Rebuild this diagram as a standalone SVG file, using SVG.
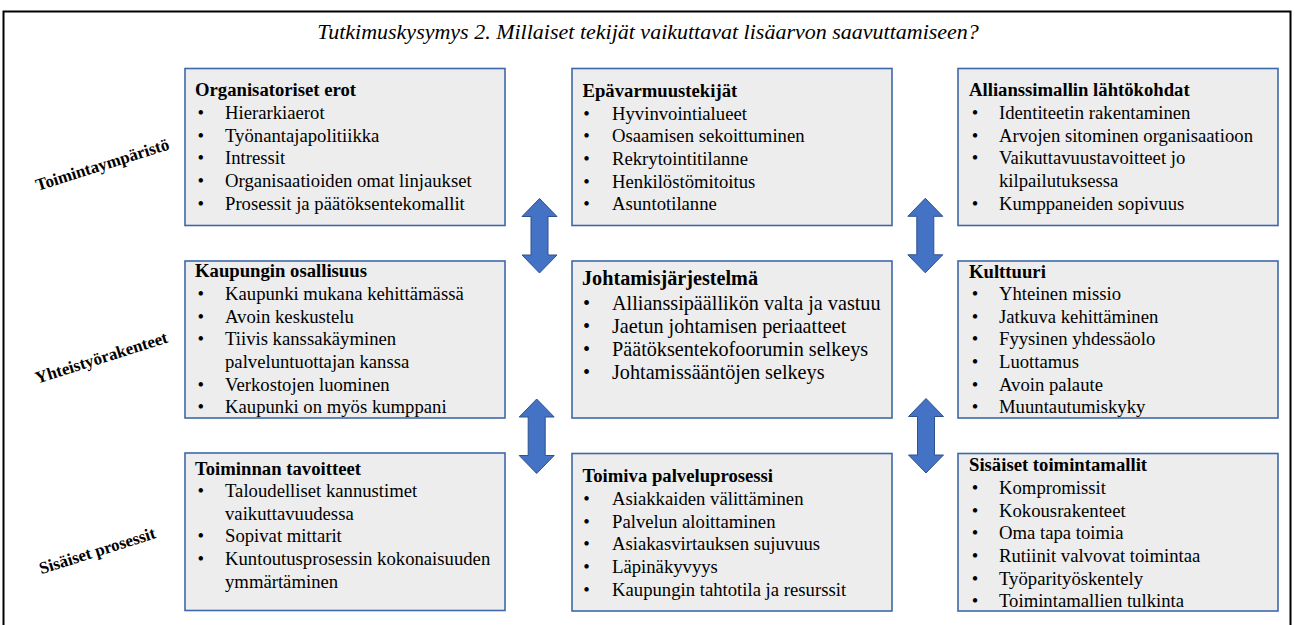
<svg xmlns="http://www.w3.org/2000/svg" xmlns:xlink="http://www.w3.org/1999/xlink" width="1295" height="625" viewBox="0 0 1295 625">
<style>
  text { font-family: "Liberation Serif", "Times New Roman", serif; fill: #000; }
  .title { font-size: 22px; font-style: italic; text-anchor: middle; }
  .side { font-size: 17px; font-weight: bold; text-anchor: middle; }
  .box { fill: #EDEDED; stroke: #3E68A8; stroke-width: 1.6; }
  .h { font-size: 18.7px; font-weight: bold; }
  .i { font-size: 18.7px; }
  .b { font-size: 18.7px; text-anchor: middle; }
  .big .h, .big .i, .big .b { font-size: 20.2px; }
  .arrow { fill: #4472C4; stroke: #2F528F; stroke-width: 1; }
</style>
<defs>
  <path id="dbl" d="M0,0 L17.5,18 L8.5,18 L8.5,56.5 L17.5,56.5 L0,74.5 L-17.5,56.5 L-8.5,56.5 L-8.5,18 L-17.5,18 Z"/>
</defs>
<rect x="0" y="0" width="1295" height="625" fill="#fff"/>
<rect x="3.5" y="11.5" width="1287" height="640" fill="none" stroke="#000" stroke-width="2"/>
<text class="title" x="648" y="39">Tutkimuskysymys 2. Millaiset tekijät vaikuttavat lisäarvon saavuttamiseen?</text>

<g id="labels">
  <text class="side" transform="translate(104,170) rotate(-17.5)">Toimintaympäristö</text>
  <text class="side" transform="translate(103,363) rotate(-17.5)">Yhteistyörakenteet</text>
  <text class="side" transform="translate(99,556) rotate(-17.5)">Sisäiset prosessit</text>
</g>

<g id="box-organisatoriset">
  <rect class="box" x="185" y="68.5" width="320" height="157"/>
  <text class="h" x="195" y="96.3">Organisatoriset erot</text>
  <text class="b" x="200.7" y="119">•</text><text class="i" x="225" y="119">Hierarkiaerot</text>
  <text class="b" x="200.7" y="141.7">•</text><text class="i" x="225" y="141.7">Työnantajapolitiikka</text>
  <text class="b" x="200.7" y="164.3">•</text><text class="i" x="225" y="164.3">Intressit</text>
  <text class="b" x="200.7" y="187">•</text><text class="i" x="225" y="187">Organisaatioiden omat linjaukset</text>
  <text class="b" x="200.7" y="209.7">•</text><text class="i" x="225" y="209.7">Prosessit ja päätöksentekomallit</text>
</g>

<g id="box-epavarmuus">
  <rect class="box" x="572" y="68.5" width="320" height="157"/>
  <text class="h" x="582.5" y="97">Epävarmuustekijät</text>
  <text class="b" x="586.5" y="119.5">•</text><text class="i" x="612" y="119.5">Hyvinvointialueet</text>
  <text class="b" x="586.5" y="142.2">•</text><text class="i" x="612" y="142.2">Osaamisen sekoittuminen</text>
  <text class="b" x="586.5" y="164.9">•</text><text class="i" x="612" y="164.9">Rekrytointitilanne</text>
  <text class="b" x="586.5" y="187.5">•</text><text class="i" x="612" y="187.5">Henkilöstömitoitus</text>
  <text class="b" x="586.5" y="210.2">•</text><text class="i" x="612" y="210.2">Asuntotilanne</text>
</g>

<g id="box-allianssimalli">
  <rect class="box" x="958" y="68.5" width="320" height="157"/>
  <text class="h" x="969" y="96.3">Allianssimallin lähtökohdat</text>
  <text class="b" x="975" y="119">•</text><text class="i" x="999" y="119">Identiteetin rakentaminen</text>
  <text class="b" x="975" y="141.7">•</text><text class="i" x="999" y="141.7">Arvojen sitominen organisaatioon</text>
  <text class="b" x="975" y="164.3">•</text><text class="i" x="999" y="164.3">Vaikuttavuustavoitteet jo</text>
  <text class="i" x="999" y="187">kilpailutuksessa</text>
  <text class="b" x="975" y="209.7">•</text><text class="i" x="999" y="209.7">Kumppaneiden sopivuus</text>
</g>

<g id="box-kaupunki">
  <rect class="box" x="185" y="261" width="320" height="157"/>
  <text class="h" x="195" y="277.3">Kaupungin osallisuus</text>
  <text class="b" x="200.7" y="300">•</text><text class="i" x="225" y="300">Kaupunki mukana kehittämässä</text>
  <text class="b" x="200.7" y="322.7">•</text><text class="i" x="225" y="322.7">Avoin keskustelu</text>
  <text class="b" x="200.7" y="345.3">•</text><text class="i" x="225" y="345.3">Tiivis kanssakäyminen</text>
  <text class="i" x="225" y="368">palveluntuottajan kanssa</text>
  <text class="b" x="200.7" y="390.7">•</text><text class="i" x="225" y="390.7">Verkostojen luominen</text>
  <text class="b" x="200.7" y="413.3">•</text><text class="i" x="225" y="413.3">Kaupunki on myös kumppani</text>
</g>

<g id="box-johtamis" class="big">
  <rect class="box" x="572" y="261" width="320" height="157"/>
  <text class="h" x="582" y="285">Johtamisjärjestelmä</text>
  <text class="b" x="586.5" y="310">•</text><text class="i" x="612" y="310">Allianssipäällikön valta ja vastuu</text>
  <text class="b" x="586.5" y="333">•</text><text class="i" x="612" y="333">Jaetun johtamisen periaatteet</text>
  <text class="b" x="586.5" y="356">•</text><text class="i" x="612" y="356">Päätöksentekofoorumin selkeys</text>
  <text class="b" x="586.5" y="379">•</text><text class="i" x="612" y="379">Johtamissääntöjen selkeys</text>
</g>

<g id="box-kulttuuri">
  <rect class="box" x="958" y="261" width="320" height="157"/>
  <text class="h" x="969" y="277.7">Kulttuuri</text>
  <text class="b" x="975" y="300">•</text><text class="i" x="999" y="300">Yhteinen missio</text>
  <text class="b" x="975" y="322.7">•</text><text class="i" x="999" y="322.7">Jatkuva kehittäminen</text>
  <text class="b" x="975" y="345.3">•</text><text class="i" x="999" y="345.3">Fyysinen yhdessäolo</text>
  <text class="b" x="975" y="368">•</text><text class="i" x="999" y="368">Luottamus</text>
  <text class="b" x="975" y="390.7">•</text><text class="i" x="999" y="390.7">Avoin palaute</text>
  <text class="b" x="975" y="413.3">•</text><text class="i" x="999" y="413.3">Muuntautumiskyky</text>
</g>

<g id="box-tavoitteet">
  <rect class="box" x="185" y="453" width="320" height="157.5"/>
  <text class="h" x="195" y="475">Toiminnan tavoitteet</text>
  <text class="b" x="200.7" y="497">•</text><text class="i" x="225" y="497">Taloudelliset kannustimet</text>
  <text class="i" x="225" y="519.7">vaikuttavuudessa</text>
  <text class="b" x="200.7" y="542.3">•</text><text class="i" x="225" y="542.3">Sopivat mittarit</text>
  <text class="b" x="200.7" y="565">•</text><text class="i" x="225" y="565">Kuntoutusprosessin kokonaisuuden</text>
  <text class="i" x="225" y="587.7">ymmärtäminen</text>
</g>

<g id="box-palveluprosessi">
  <rect class="box" x="572" y="453.5" width="320" height="157.5"/>
  <text class="h" x="582.5" y="482.3">Toimiva palveluprosessi</text>
  <text class="b" x="586.5" y="505">•</text><text class="i" x="612" y="505">Asiakkaiden välittäminen</text>
  <text class="b" x="586.5" y="527.7">•</text><text class="i" x="612" y="527.7">Palvelun aloittaminen</text>
  <text class="b" x="586.5" y="550.3">•</text><text class="i" x="612" y="550.3">Asiakasvirtauksen sujuvuus</text>
  <text class="b" x="586.5" y="573">•</text><text class="i" x="612" y="573">Läpinäkyvyys</text>
  <text class="b" x="586.5" y="595.7">•</text><text class="i" x="612" y="595.7">Kaupungin tahtotila ja resurssit</text>
</g>

<g id="box-toimintamallit">
  <rect class="box" x="958" y="453.5" width="320" height="157.5"/>
  <text class="h" x="969" y="471.3">Sisäiset toimintamallit</text>
  <text class="b" x="975" y="494">•</text><text class="i" x="999" y="494">Kompromissit</text>
  <text class="b" x="975" y="516.7">•</text><text class="i" x="999" y="516.7">Kokousrakenteet</text>
  <text class="b" x="975" y="539.3">•</text><text class="i" x="999" y="539.3">Oma tapa toimia</text>
  <text class="b" x="975" y="562">•</text><text class="i" x="999" y="562">Rutiinit valvovat toimintaa</text>
  <text class="b" x="975" y="584.7">•</text><text class="i" x="999" y="584.7">Työparityöskentely</text>
  <text class="b" x="975" y="607.3">•</text><text class="i" x="999" y="607.3">Toimintamallien tulkinta</text>
</g>

<g id="connectors">
  <use class="arrow" xlink:href="#dbl" href="#dbl" x="539.5" y="198.5"/>
  <use class="arrow" xlink:href="#dbl" href="#dbl" x="536.7" y="399"/>
  <use class="arrow" xlink:href="#dbl" href="#dbl" x="925.3" y="198.3"/>
  <use class="arrow" xlink:href="#dbl" href="#dbl" x="926" y="398.5"/>
</g>
</svg>
